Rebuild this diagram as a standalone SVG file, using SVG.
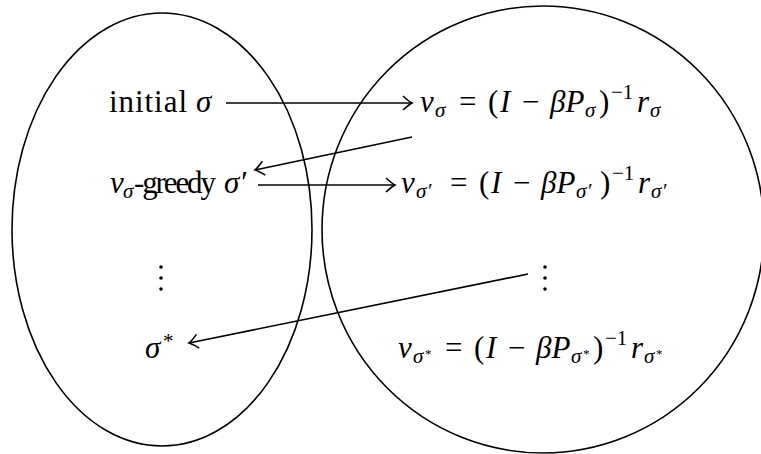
<svg xmlns="http://www.w3.org/2000/svg" width="761" height="454" viewBox="0 0 761 454">
<defs>
<style>
.e{fill:none;stroke:#000;stroke-width:1.6}
.c{fill:none;stroke:#000;stroke-width:1.6}
text{font-family:"Liberation Serif","DejaVu Serif",serif;font-size:31px;fill:#000}
.i{font-style:italic}
.s{font-size:21px;font-style:italic}
.sr{font-size:21px}
.st{font-size:13px}
</style>
<marker id="ah" markerWidth="16" markerHeight="16" viewBox="-12 -8 14 16" refX="0" refY="0" orient="auto" markerUnits="userSpaceOnUse">
<path d="M -9 -7 Q -3 -1.5 0 0 Q -3 1.5 -9 7" fill="none" stroke="#000" stroke-width="1.6"/>
</marker>
</defs>
<rect width="761" height="454" fill="#fff"/>
<g id="left-set"><ellipse class="e" cx="162" cy="229.5" rx="150" ry="216.5"/></g>
<g id="right-set"><ellipse class="e" cx="543" cy="229.5" rx="221" ry="223.5"/></g>
<g id="initial">
<text x="109" y="112" textLength="78" lengthAdjust="spacing">initial</text>
<text class="i" x="196" y="112">σ</text>
</g>
<g id="greedy">
<text class="i" x="110" y="193">v</text>
<text class="s" x="123" y="198">σ</text>
<text x="134" y="193" font-size="29" textLength="82" lengthAdjust="spacing">-greedy</text>
<text class="i" x="224" y="193">σ′</text>
</g>
<g id="dots-left"><circle cx="161" cy="267" r="1.8"/><circle cx="161" cy="278" r="1.8"/><circle cx="161" cy="289" r="1.8"/></g>
<g id="sigma-star">
<text class="i" x="145" y="358">σ</text>
<text class="sr" x="163" y="348">*</text>
</g>
<g id="v-sigma">
<text class="i" x="420" y="112">v</text>
<text class="s" x="435" y="117">σ</text>
<text x="459" y="112">=</text>
<text x="488" y="112">(</text>
<text class="i" x="500" y="112">I</text>
<text x="522" y="112">−</text>
<text class="i" x="550" y="112">βP</text>
<text class="s" x="585" y="117">σ</text>
<text x="599" y="112">)</text>
<text class="sr" x="611" y="99">−1</text>
<text class="i" x="637" y="112">r</text>
<text class="s" x="650" y="117">σ</text>
</g>
<g id="v-sigma-prime">
<text class="i" x="401" y="193">v</text>
<text class="s" x="416" y="198">σ<tspan dx="0.5">′</tspan></text>
<text x="450" y="193">=</text>
<text x="479" y="193">(</text>
<text class="i" x="491" y="193">I</text>
<text x="513" y="193">−</text>
<text class="i" x="541" y="193">βP</text>
<text class="s" x="576" y="198">σ<tspan dx="0.5">′</tspan></text>
<text x="600" y="193">)</text>
<text class="sr" x="612" y="180">−1</text>
<text class="i" x="638" y="193">r</text>
<text class="s" x="651" y="198">σ<tspan dx="0.5">′</tspan></text>
</g>
<g id="dots-right"><circle cx="545" cy="267" r="1.8"/><circle cx="545" cy="278" r="1.8"/><circle cx="545" cy="289" r="1.8"/></g>
<g id="v-sigma-star">
<text class="i" x="398" y="358">v</text>
<text class="s" x="413" y="363">σ</text>
<text class="st" x="425" y="358">*</text>
<text x="445" y="358">=</text>
<text x="474" y="358">(</text>
<text class="i" x="486" y="358">I</text>
<text x="508" y="358">−</text>
<text class="i" x="536" y="358">βP</text>
<text class="s" x="571" y="363">σ</text>
<text class="st" x="583" y="358">*</text>
<text x="593" y="358">)</text>
<text class="sr" x="605" y="345">−1</text>
<text class="i" x="631" y="358">r</text>
<text class="s" x="644" y="363">σ</text>
<text class="st" x="656" y="358">*</text>
</g>
<g id="connectors">
<line class="c" x1="226" y1="103" x2="412" y2="103" marker-end="url(#ah)"/>
<line class="c" x1="412" y1="137" x2="255" y2="170" marker-end="url(#ah)"/>
<line class="c" x1="258" y1="185" x2="395" y2="185" marker-end="url(#ah)"/>
<line class="c" x1="528" y1="274" x2="189" y2="343" marker-end="url(#ah)"/>
</g>
</svg>
